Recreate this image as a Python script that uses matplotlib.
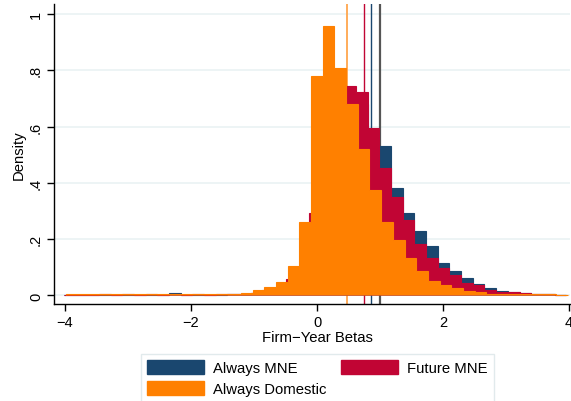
import numpy as np
import matplotlib
matplotlib.use('Agg')
import matplotlib.pyplot as plt
from matplotlib.patches import Patch

plt.rcParams['font.family'] = ['Liberation Sans', 'DejaVu Sans']

# Histogram densities of firm-year betas, 43 bins each
bin_width = 0.1855
start_domestic = -3.99
start_mne = -4.02   # MNE groups are binned on a slightly shifted grid

always_domestic = [0.005, 0.005, 0.004, 0.005, 0.005, 0.006, 0.005, 0.005, 0.004, 0.004,
                   0.005, 0.005, 0.006, 0.006, 0.007, 0.009, 0.021, 0.030, 0.049, 0.105,
                   0.262, 0.780, 0.958, 0.808, 0.681, 0.520, 0.376, 0.260, 0.197, 0.132,
                   0.087, 0.052, 0.037, 0.027, 0.015, 0.011, 0.007, 0.005, 0.004, 0.004,
                   0.004, 0.004, 0.003]
future_mne = [0.002, 0.003, 0.003, 0.004, 0.003, 0.004, 0.003, 0.004, 0.003, 0.007,
              0.003, 0.004, 0.003, 0.004, 0.005, 0.006, 0.009, 0.020, 0.028, 0.059,
              0.100, 0.293, 0.560, 0.720, 0.745, 0.724, 0.594, 0.452, 0.351, 0.268,
              0.183, 0.133, 0.098, 0.074, 0.046, 0.037, 0.021, 0.014, 0.011, 0.008,
              0.006, 0.004, 0.003]
always_mne = [0.002, 0.002, 0.003, 0.002, 0.003, 0.003, 0.002, 0.003, 0.003, 0.008,
              0.003, 0.002, 0.003, 0.003, 0.004, 0.006, 0.008, 0.015, 0.025, 0.045,
              0.090, 0.220, 0.500, 0.660, 0.700, 0.680, 0.580, 0.532, 0.382, 0.294,
              0.230, 0.177, 0.115, 0.088, 0.062, 0.040, 0.026, 0.017, 0.011, 0.008,
              0.005, 0.004, 0.003]

# group means and reference line
mean_domestic = 0.476
mean_future = 0.752
mean_always = 0.862
ref_beta = 1.0

navy = '#1a476f'
cranberry = '#c10534'
orange = '#ff8000'


def edges(start, n):
    return start + bin_width * np.arange(n + 1)


fig = plt.figure(figsize=(5.71, 4.02), dpi=100)
ax = fig.add_axes([54 / 571, 1 - 305 / 402, 516 / 571, 300 / 402])

# bars get a thin outline in their own colour so the flat tails stay visible
ax.stairs(always_mne, edges(start_mne, len(always_mne)), fill=True,
          facecolor=navy, edgecolor=navy, lw=0.8, zorder=2)
ax.stairs(future_mne, edges(start_mne, len(future_mne)), fill=True,
          facecolor=cranberry, edgecolor=cranberry, lw=0.8, zorder=3)
ax.stairs(always_domestic, edges(start_domestic, len(always_domestic)), fill=True,
          facecolor=orange, edgecolor=orange, lw=0.8, zorder=4)

ax.axvline(mean_domestic, color='#ffa64d', lw=1.3, zorder=1)
ax.axvline(mean_future, color=cranberry, lw=1.0, zorder=1)
ax.axvline(mean_always, color=navy, lw=1.0, zorder=1)
ax.axvline(ref_beta, color='#555555', lw=1.6, zorder=1)

ax.set_xlim(-4.175, 4.016)
ax.set_ylim(-0.0302, 1.035)

ax.set_xticks([-4, -2, 0, 2, 4])
ax.set_xticklabels(['\u22124', '\u22122', '0', '2', '4'])
ax.set_yticks([0, 0.2, 0.4, 0.6, 0.8, 1.0])
ax.set_yticklabels(['0', '.2', '.4', '.6', '.8', '1'], rotation=90, va='center')
ax.tick_params(direction='out', length=5, width=1, labelsize=10.5, pad=3)

ax.yaxis.grid(True, color='#eaf2f3', lw=1.2)
ax.set_axisbelow(True)
for side in ['top', 'right']:
    ax.spines[side].set_visible(False)
for side in ['left', 'bottom']:
    ax.spines[side].set_linewidth(1)

ax.set_xlabel('Firm\u2212Year Betas', fontsize=10.7)
ax.xaxis.set_label_coords(0.51, -0.085)
ax.set_ylabel('Density', fontsize=10.7)
ax.yaxis.set_label_coords(-0.055, 0.5)

handles = [Patch(color=navy), Patch(color=orange), Patch(color=cranberry)]
labels = ['Always MNE', 'Always Domestic', 'Future MNE']
fig.legend(handles, labels, loc='upper left',
           bbox_to_anchor=(141 / 571, 1 - 355 / 402), ncol=2,
           frameon=True, fancybox=False, edgecolor='#e1eaec', framealpha=1,
           handlelength=3.83, handleheight=1.08, handletextpad=0.6,
           columnspacing=1.0, labelspacing=0.4, borderpad=0.4,
           borderaxespad=0, fontsize=10.7)

fig.savefig('out.png', dpi=100)
